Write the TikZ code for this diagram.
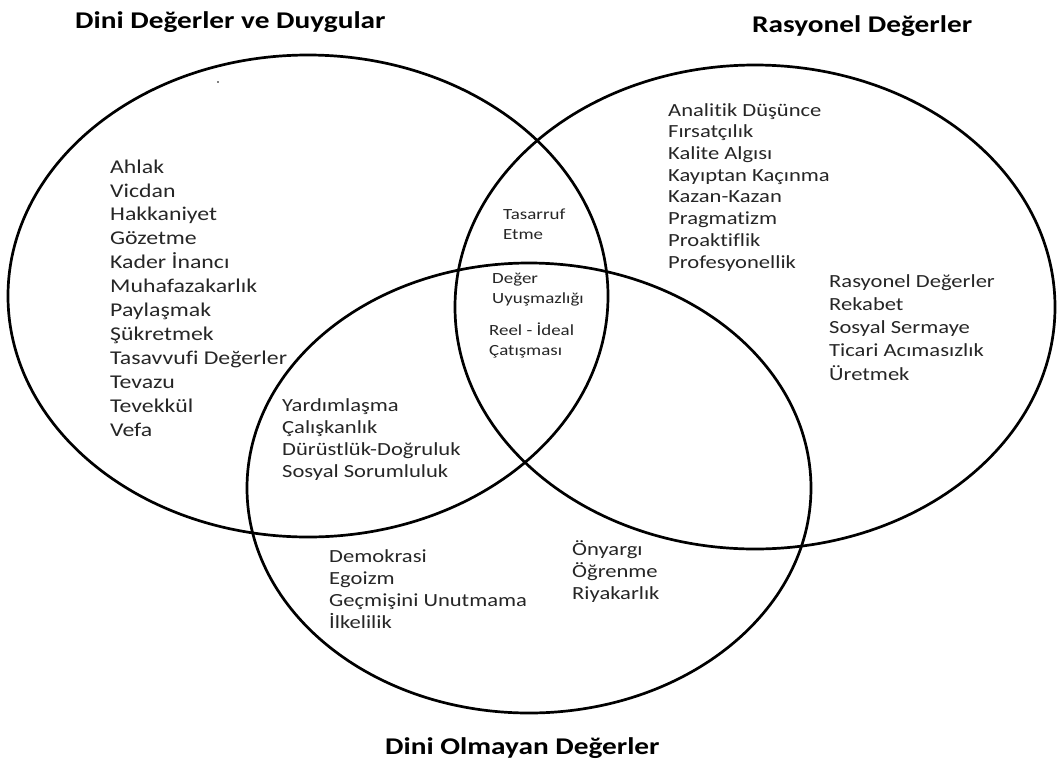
\documentclass[tikz,border=0pt]{standalone}
\usepackage{fontspec}
\setmainfont{Carlito}[FakeStretch=1.22, Ligatures=NoCommon]
\begin{document}
\begin{tikzpicture}[x=1pt,y=-1pt,
  venn/.style={line width=2.7pt, black},
  title/.style={font=\fontsize{24}{28}\selectfont\bfseries, inner sep=0pt, anchor=base west},
  listA/.style={font=\fontsize{19.5}{23.9}\selectfont, align=left, inner sep=0pt, anchor=base west, text=black!85},
  listB/.style={font=\fontsize{18.5}{21.7}\selectfont, align=left, inner sep=0pt, anchor=base west, text=black!85},
  listC/.style={font=\fontsize{15.5}{19.5}\selectfont, align=left, inner sep=0pt, anchor=base west, text=black!85}]
\useasboundingbox[fill=white] (0,0) rectangle (1058,764);
% circles
\draw[venn] (308,296) ellipse [x radius=300, y radius=241];
\draw[venn] (755,307) ellipse [x radius=300, y radius=242];
\draw[venn] (529,488) ellipse [x radius=282, y radius=225];
\fill (218,82) circle [radius=0.9];
% titles
\node[title] (t1) at (75,28) {Dini Değerler ve Duygular};
\node[title] (t2) at (752,32) {Rasyonel Değerler};
\node[title] (t3) at (385,754) {Dini Olmayan Değerler};
% lists (base anchor = baseline of last line)
\node[listA] (dini) at (110,436) {Ahlak\\Vicdan\\Hakkaniyet\\Gözetme\\Kader İnancı\\Muhafazakarlık\\Paylaşmak\\Şükretmek\\Tasavvufi Değerler\\Tevazu\\Tevekkül\\Vefa};
\node[listB] (ras1) at (668,268) {Analitik Düşünce\\Fırsatçılık\\Kalite Algısı\\Kayıptan Kaçınma\\Kazan-Kazan\\Pragmatizm\\Proaktiflik\\Profesyonellik};
\node[listB, font=\fontsize{18.5}{23.2}\selectfont] (ras2) at (829,380) {Rasyonel Değerler\\Rekabet\\Sosyal Sermaye\\Ticari Acımasızlık\\Üretmek};
\node[listC] (tas) at (503,239) {Tasarruf\\Etme};
\node[listC] (deg) at (492,303) {Değer\\Uyuşmazlığı};
\node[listC] (reel) at (489,355) {Reel - İdeal\\Çatışması};
\node[listB] (yard) at (282,477) {Yardımlaşma\\Çalışkanlık\\Dürüstlük-Doğruluk\\Sosyal Sorumluluk};
\node[listB, font=\fontsize{18.5}{22}\selectfont] (demo) at (329,628) {Demokrasi\\Egoizm\\Geçmişini Unutmama\\İlkelilik};
\node[listB, font=\fontsize{18.5}{22}\selectfont] (ony) at (572,599) {Önyargı\\Öğrenme\\Riyakarlık};
\end{tikzpicture}
\end{document}
